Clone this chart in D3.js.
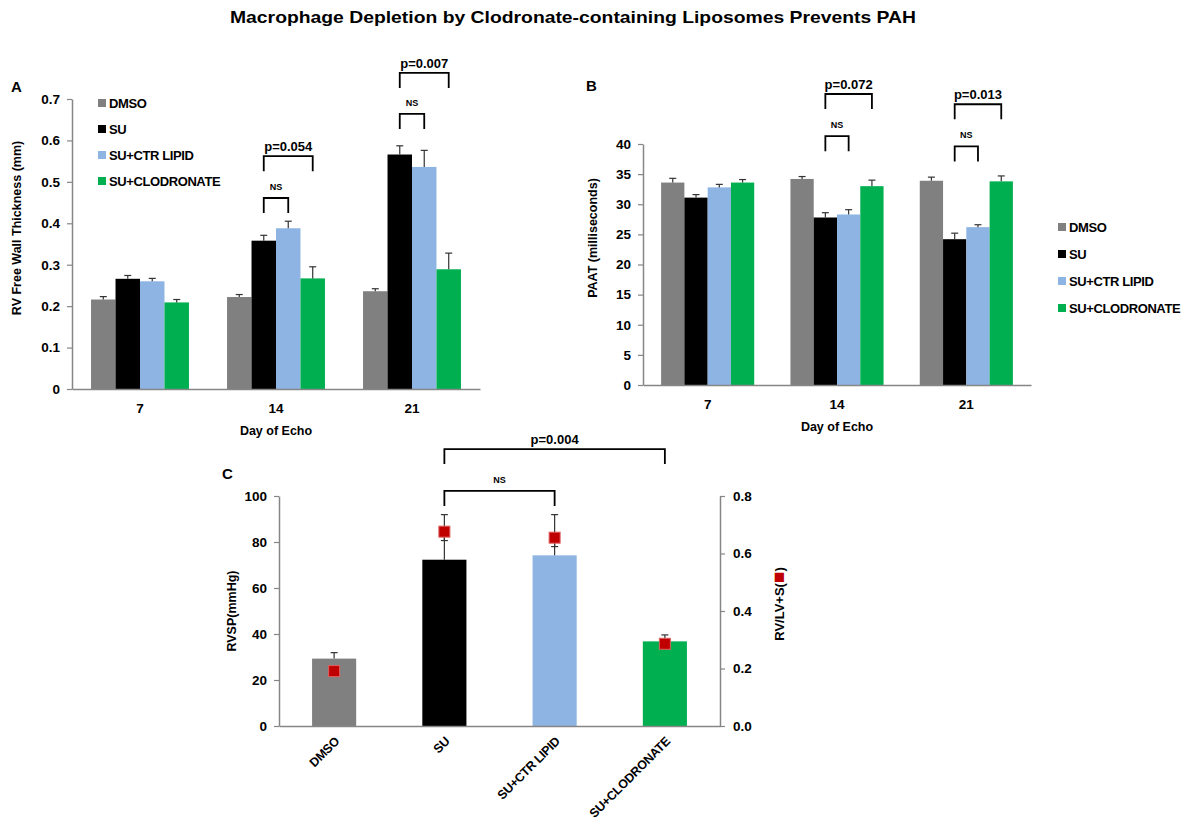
<!DOCTYPE html>
<html><head><meta charset="utf-8">
<script src="https://cdn.jsdelivr.net/npm/d3@7"></script>
<style>
body{margin:0;background:#fff;}
svg text{font-family:"Liberation Sans",Arial,Helvetica,sans-serif;font-weight:bold;fill:#000;}
</style></head><body>
<svg id="chart" width="1192" height="825"></svg>
<script>
// ---------- DATA ----------
const groups = ["DMSO", "SU", "SU+CTR LIPID", "SU+CLODRONATE"];
const groupColors = ["#808080", "#000000", "#8EB4E3", "#00B050"];
const days = ["7", "14", "21"];

// Panel A: RV free wall thickness (mm), per group across days 7/14/21
const rvfwDMSO = [0.216, 0.222, 0.236];
const rvfwSU = [0.266, 0.358, 0.566];
const rvfwCTR = [0.260, 0.388, 0.536];
const rvfwCLOD = [0.209, 0.267, 0.289];
const rvfwErrDMSO = [0.007, 0.006, 0.006];
const rvfwErrSU = [0.008, 0.013, 0.021];
const rvfwErrCTR = [0.007, 0.017, 0.040];
const rvfwErrCLOD = [0.007, 0.028, 0.039];
const rvfwTicks = [0, 0.1, 0.2, 0.3, 0.4, 0.5, 0.6, 0.7];

// Panel B: PAAT (milliseconds)
const paatDMSO = [33.6, 34.2, 33.9];
const paatSU = [31.1, 27.8, 24.2];
const paatCTR = [32.8, 28.3, 26.2];
const paatCLOD = [33.6, 33.0, 33.8];
const paatErrDMSO = [0.7, 0.4, 0.6];
const paatErrSU = [0.5, 0.8, 1.0];
const paatErrCTR = [0.5, 0.8, 0.4];
const paatErrCLOD = [0.5, 1.0, 0.9];
const paatTicks = [0, 5, 10, 15, 20, 25, 30, 35, 40];

// Panel C: RVSP (bars) and RV/LV+S (squares)
const rvsp = [29.3, 72.3, 74.2, 36.8];
const rvspErr = [2.6, 19.6, 17.7, 2.8];
const rvlv = [0.191, 0.676, 0.655, 0.286];
const rvlvErr = [0, 0.031, 0.031, 0];
const rvspTicks = [0, 20, 40, 60, 80, 100];
const rvlvTicks = [0, 0.2, 0.4, 0.6, 0.8];

// significance brackets (levels in data units)
const bracketsA = [
  {day: "14", from: 1, to: 2, level: 0.461, label: "NS"},
  {day: "14", from: 1, to: 3, level: 0.562, label: "p=0.054"},
  {day: "21", from: 1, to: 2, level: 0.664, label: "NS"},
  {day: "21", from: 1, to: 3, level: 0.763, label: "p=0.007"}
];
const bracketsB = [
  {day: "14", from: 1, to: 2, level: 41.3, label: "NS"},
  {day: "14", from: 1, to: 3, level: 48.3, label: "p=0.072"},
  {day: "21", from: 1, to: 2, level: 39.6, label: "NS"},
  {day: "21", from: 1, to: 3, level: 46.6, label: "p=0.013"}
];
const bracketsC = [
  {from: 1, to: 2, level: 102.2, label: "NS"},
  {from: 1, to: 3, level: 120.4, label: "p=0.004"}
];

// ---------- DRAWING ----------
const svg = d3.select("#chart");
const AXIS = "#868686", ERR = "#333";

svg.append("text").attr("x", 573).attr("y", 23).attr("text-anchor", "middle")
  .attr("font-size", 17).attr("textLength", 686).attr("lengthAdjust", "spacingAndGlyphs")
  .text("Macrophage Depletion by Clodronate-containing Liposomes Prevents PAH");

function styleAxis(g) {
  g.select(".domain").attr("stroke", AXIS).attr("stroke-width", 1.5);
  g.selectAll(".tick line").attr("stroke", AXIS).attr("stroke-width", 1.2);
  g.selectAll(".tick text").attr("font-size", 13.5).attr("font-family", null).attr("fill", "#000");
}

function bracket(g, x1, x2, yTop, label) {
  const leg = 15;
  g.append("path")
    .attr("d", `M${x1},${yTop + leg}V${yTop}H${x2}V${yTop + leg}`)
    .attr("fill", "none").attr("stroke", "#000").attr("stroke-width", 1.8);
  const isNS = label === "NS";
  g.append("text").attr("x", (x1 + x2) / 2).attr("y", yTop - (isNS ? 8 : 5))
    .attr("text-anchor", "middle").attr("font-size", isNS ? 9 : 13).text(label);
}

function errBar(g, x, y0, y1) {
  g.append("line").attr("x1", x).attr("x2", x).attr("y1", y0).attr("y2", y1)
    .attr("stroke", ERR).attr("stroke-width", 1.2);
  g.append("line").attr("x1", x - 3.5).attr("x2", x + 3.5).attr("y1", y1).attr("y2", y1)
    .attr("stroke", ERR).attr("stroke-width", 1.2);
}

function groupedPanel(opts) {
  const g = svg.append("g");
  const x = d3.scaleBand().domain(days).range(opts.xr).paddingInner(0.28).paddingOuter(0.14);
  const xi = d3.scaleBand().domain(d3.range(groups.length)).range([0, x.bandwidth()]);
  const y = d3.scaleLinear().domain([0, opts.ticks[opts.ticks.length - 1]]).range(opts.yr);

  opts.series.forEach((vals, si) => {
    vals.forEach((v, di) => {
      const bx = x(days[di]) + xi(si);
      g.append("rect").attr("x", bx).attr("y", y(v)).attr("width", xi.bandwidth())
        .attr("height", y(0) - y(v)).attr("fill", groupColors[si]);
    });
  });
  opts.series.forEach((vals, si) => {
    vals.forEach((v, di) => {
      const cx = x(days[di]) + xi(si) + xi.bandwidth() / 2;
      errBar(g, cx, y(v), y(v + opts.errs[si][di]));
    });
  });

  const ya = g.append("g").attr("transform", `translate(${opts.xr[0]},0)`)
    .call(d3.axisLeft(y).tickValues(opts.ticks).tickFormat(opts.fmt).tickSize(5).tickSizeOuter(0).tickPadding(7));
  styleAxis(ya);
  const xa = g.append("g").attr("transform", `translate(0,${opts.yr[0]})`)
    .call(d3.axisBottom(x).tickSize(0).tickSizeOuter(0).tickPadding(14));
  styleAxis(xa);

  g.append("text").attr("x", (opts.xr[0] + opts.xr[1]) / 2).attr("y", opts.yr[0] + 46)
    .attr("text-anchor", "middle").attr("font-size", 12.5).text("Day of Echo");
  g.append("text").attr("transform", `translate(${opts.ytitle[0]},${opts.ytitle[1]}) rotate(-90)`)
    .attr("text-anchor", "middle").attr("dy", "0.35em").attr("font-size", 12.5).text(opts.ylabel);

  opts.brackets.forEach(b => {
    const cx = i => x(b.day) + xi(i) + xi.bandwidth() / 2;
    bracket(g, cx(b.from), cx(b.to), y(b.level), b.label);
  });

  groups.forEach((name, i) => {
    const ly = opts.legend[1] + i * opts.legend[2];
    g.append("rect").attr("x", opts.legend[0]).attr("y", ly - 4).attr("width", 8).attr("height", 8)
      .attr("fill", groupColors[i]);
    g.append("text").attr("x", opts.legend[0] + 11).attr("y", ly).attr("dy", "0.36em")
      .attr("font-size", 13).attr("letter-spacing", -0.4).text(name);
  });

  g.append("text").attr("x", opts.plabel[0]).attr("y", opts.plabel[1]).attr("font-size", 15).text(opts.pname);
}

groupedPanel({
  xr: [72, 480], yr: [389, 99], ticks: rvfwTicks, fmt: d3.format(""),
  series: [rvfwDMSO, rvfwSU, rvfwCTR, rvfwCLOD],
  errs: [rvfwErrDMSO, rvfwErrSU, rvfwErrCTR, rvfwErrCLOD],
  ylabel: "RV Free Wall Thickness (mm)", ytitle: [17, 228],
  brackets: bracketsA, legend: [98, 103, 26], plabel: [11, 92], pname: "A"
});

groupedPanel({
  xr: [643, 1031], yr: [385, 144], ticks: paatTicks, fmt: d3.format(""),
  series: [paatDMSO, paatSU, paatCTR, paatCLOD],
  errs: [paatErrDMSO, paatErrSU, paatErrCTR, paatErrCLOD],
  ylabel: "PAAT (milliseconds)", ytitle: [593, 238],
  brackets: bracketsB, legend: [1058, 227, 27], plabel: [586, 91], pname: "B"
});

// Panel C
(function () {
  const g = svg.append("g");
  const x = d3.scaleBand().domain(groups).range([279, 720]).paddingInner(0.6).paddingOuter(0.3);
  const y = d3.scaleLinear().domain([0, 100]).range([726, 496]);
  const yR = d3.scaleLinear().domain([0, 0.8]).range([726, 496]);
  const cx = i => x(groups[i]) + x.bandwidth() / 2;

  groups.forEach((name, i) => {
    g.append("rect").attr("x", x(name)).attr("y", y(rvsp[i])).attr("width", x.bandwidth())
      .attr("height", y(0) - y(rvsp[i])).attr("fill", groupColors[i]);
  });
  groups.forEach((name, i) => {
    errBar(g, cx(i), y(rvsp[i]), y(rvsp[i] + rvspErr[i]));
    if (rvlvErr[i] > 0) errBar(g, cx(i), yR(rvlv[i]), yR(rvlv[i] - rvlvErr[i]));
  });
  groups.forEach((name, i) => {
    g.append("rect").attr("x", cx(i) - 5.5).attr("y", yR(rvlv[i]) - 5.5).attr("width", 11).attr("height", 11)
      .attr("fill", "#C00000").attr("stroke", "#E06060").attr("stroke-width", 1);
  });

  const yl = g.append("g").attr("transform", "translate(279,0)")
    .call(d3.axisLeft(y).tickValues(rvspTicks).tickSize(5).tickSizeOuter(0).tickPadding(7));
  styleAxis(yl);
  const yr = g.append("g").attr("transform", "translate(720,0)")
    .call(d3.axisRight(yR).tickValues(rvlvTicks).tickFormat(d3.format(".1f")).tickSize(5).tickSizeOuter(0).tickPadding(8));
  styleAxis(yr);
  const xa = g.append("g").attr("transform", "translate(0,726)")
    .call(d3.axisBottom(x).tickSize(0).tickSizeOuter(0));
  styleAxis(xa);
  xa.selectAll(".tick text").attr("x", 0).attr("y", 0).attr("dy", "0.35em")
    .attr("font-size", 12.5).attr("letter-spacing", -0.3)
    .attr("text-anchor", "end").attr("transform", "translate(3,13) rotate(-45)");

  g.append("text").attr("transform", "translate(232,611) rotate(-90)")
    .attr("text-anchor", "middle").attr("dy", "0.35em").attr("font-size", 12.5).text("RVSP(mmHg)");
  const rt = g.append("text").attr("transform", "translate(779,604) rotate(-90)")
    .attr("text-anchor", "middle").attr("dy", "0.35em").attr("font-size", 13);
  rt.append("tspan").text("RV/LV+S(");
  rt.append("tspan").style("fill", "#C00000").attr("font-size", 19).attr("dy", "0.05em").text("\u25A0");
  rt.append("tspan").attr("dy", "-0.05em").text(")");

  bracketsC.forEach(b => bracket(g, cx(b.from), cx(b.to), y(b.level), b.label));
  g.append("text").attr("x", 222).attr("y", 479).attr("font-size", 15).text("C");
})();
</script>
</body></html>
